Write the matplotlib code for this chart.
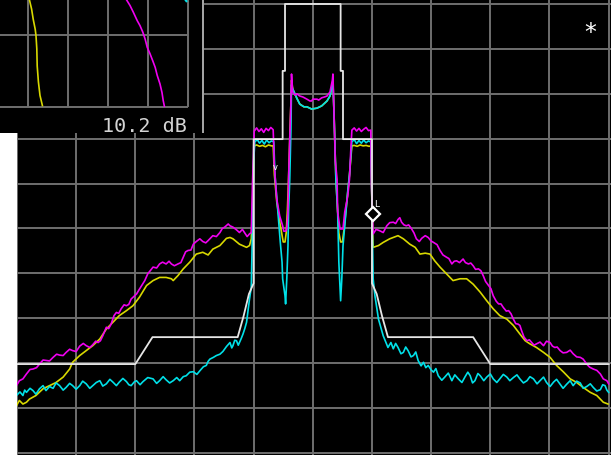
import numpy as np
import matplotlib
matplotlib.use('Agg')
import matplotlib.pyplot as plt
from matplotlib.patches import Rectangle

# frequency offset in divisions from centre, level in dB (ref 0 dB, 10 dB/div)
mask_x = [-5.0, -3.0, -2.71, -1.27, -1.17, -1.08, -1.0, -1.0, -0.51, -0.51, -0.47, -0.47,
          0.47, 0.47, 0.51, 0.51, 1.0, 1.0, 1.08, 1.17, 1.27, 2.71, 3.0, 5.0]
mask_db = [-80.2, -80.2, -74.2, -74.2, -69.5, -64.6, -62.2, -30.1, -30.1, -14.9, -14.9, 0.0,
           0.0, -14.9, -14.9, -30.1, -30.1, -62.2, -64.6, -69.5, -74.2, -74.2, -80.2, -80.2]

mag_x = [-5.01, -4.96, -4.84, -4.73, -4.62, -4.51, -4.39, -4.28, -4.17, -4.06, -3.94, -3.83,
         -3.72, -3.63, -3.55, -3.49, -3.41, -3.32, -3.24, -3.15, -3.07, -2.98, -2.93, -2.84,
         -2.79, -2.70, -2.59, -2.54, -2.48, -2.39, -2.34, -2.28, -2.19, -2.11, -2.02, -1.97,
         -1.86, -1.77, -1.69, -1.57, -1.49, -1.43, -1.40, -1.35, -1.29, -1.24, -1.15, -1.07, -1.04,
         -1.02, -0.99, -0.95, -0.91, -0.87, -0.83, -0.79, -0.75, -0.71, -0.67,
         -0.65, -0.61, -0.56, -0.51, -0.49, -0.46, -0.44, -0.42, -0.41, -0.39,
         -0.37, -0.36, -0.34, -0.30, -0.27, -0.22, -0.17, -0.10, -0.05, -0.02,
         0.0, 0.03, 0.07, 0.10, 0.15, 0.20, 0.24, 0.29, 0.33, 0.34,
         0.36, 0.38, 0.41, 0.42, 0.46, 0.51, 0.54, 0.59, 0.62, 0.64,
         0.66, 0.70, 0.74, 0.78, 0.82, 0.86, 0.90, 0.94, 0.98, 0.99,
         1.02, 1.13, 1.25, 1.36, 1.44, 1.50, 1.58, 1.67, 1.75, 1.84, 1.95, 2.04, 2.15, 2.26,
         2.35, 2.43, 2.54, 2.63, 2.71, 2.80, 2.88, 2.97, 3.05, 3.14, 3.22, 3.31, 3.39, 3.47,
         3.53, 3.62, 3.70, 3.78, 3.90, 4.01, 4.09, 4.18, 4.29, 4.40, 4.52, 4.63, 4.74, 4.86,
         4.97, 5.0]
mag_db = [-85.0, -83.9, -82.4, -81.3, -80.2, -79.4, -78.7, -78.2, -77.6, -77.2, -76.2, -76.1,
          -75.9, -75.4, -73.9, -72.0, -71.3, -68.7, -67.9, -67.2, -65.7, -64.6, -63.5, -61.6,
          -60.1, -58.6, -57.9, -57.5, -57.9, -57.9, -58.3, -57.9, -56.4, -54.9, -53.5, -52.9,
          -52.9, -52.7, -51.6, -50.9, -49.7, -49.0, -49.4, -49.7, -50.3, -50.9, -51.0, -51.2, -50.9,
          -40.0, -28.3, -27.6, -28.4, -27.8, -28.6, -27.7, -28.2, -27.5, -28.0,
          -36.0, -43.4, -47.2, -49.4, -50.6, -50.6, -50.1, -46.3, -39.0, -30.0,
          -22.0, -15.6, -19.6, -20.3, -20.0, -20.5, -20.7, -21.2, -21.6, -21.6,
          -21.2, -21.2, -21.2, -21.4, -20.9, -20.7, -20.5, -19.6, -17.0, -15.6,
          -25.0, -35.0, -39.0, -46.3, -50.1, -50.1, -46.3, -42.8, -39.0, -33.0,
          -28.1, -27.6, -28.3, -27.7, -28.4, -27.9, -27.5, -28.2, -28.1, -40.0,
          -51.2, -50.5, -49.4, -48.6, -48.0, -48.6, -49.4, -50.1, -52.3, -52.2, -52.0, -53.1,
          -54.9, -56.4, -57.9, -57.2, -56.8, -57.9, -58.3, -59.0, -60.5, -62.7, -65.0, -66.8,
          -67.6, -68.3, -70.2, -71.3, -72.8, -75.0, -75.4, -75.7, -76.1, -75.4, -76.5, -77.2,
          -77.6, -77.9, -78.7, -80.2, -81.3, -82.4, -83.9, -84.6]

# extra in-between readings of the magenta skirts (trace ripple)
mag_ripple_x = [-4.90, -4.78, -4.67, -4.56, -4.45, -4.33, -4.22, -4.11, -4.00, -3.88, -3.77,
                -3.67, -3.59, -3.45, -3.36, -3.28, -3.19, -3.11, -2.64, -2.43, -2.23, -2.15,
                -2.06, -1.91, -1.81, -1.63, -1.53, -1.19, -1.11,
                1.07, 1.19, 1.30, 1.40, 1.47, 1.54, 1.62, 1.71, 1.80, 1.90, 2.00, 2.10, 2.20,
                2.30, 2.39, 2.48, 2.58, 2.67, 2.75, 2.84, 2.92, 3.01, 3.10, 3.18, 3.27, 3.35,
                3.43, 3.50, 3.57, 3.66, 3.74, 3.84, 3.95, 4.05, 4.13, 4.23, 4.35, 4.46, 4.57,
                4.68, 4.80, 4.91]
mag_ripple_db = [-83.5, -81.4, -81.0, -79.3, -79.5, -78.0, -78.3, -76.9, -77.4, -75.6, -76.5,
                 -75.1, -75.0, -72.3, -69.4, -68.9, -67.0, -66.9, -58.8, -57.3, -57.6, -55.2,
                 -54.8, -52.3, -53.2, -51.8, -50.0, -50.2, -51.8,
                 -50.2, -50.9, -48.7, -48.9, -47.6, -49.2, -49.2, -51.0, -52.9, -51.6, -52.8,
                 -53.6, -55.9, -56.7, -57.3, -57.6, -57.6, -57.7, -59.1, -59.4, -61.8, -63.4,
                 -66.2, -66.8, -68.4, -69.0, -71.2, -71.6, -74.2, -74.8, -76.0, -75.3, -75.1,
                 -76.2, -76.4, -77.7, -77.1, -78.6, -79.1, -80.9, -81.6, -83.5]

yel_x = [-5.01, -4.96, -4.90, -4.84, -4.79, -4.68, -4.56, -4.45, -4.34, -4.22, -4.11, -4.06,
         -3.94, -3.83, -3.72, -3.60, -3.49, -3.38, -3.27, -3.15, -3.04, -2.93, -2.81, -2.70,
         -2.59, -2.48, -2.39, -2.36, -2.28, -2.19, -2.08, -1.97, -1.86, -1.77, -1.69, -1.57,
         -1.46, -1.40, -1.35, -1.24, -1.12, -1.07, -1.04,
         -1.02, -0.99, -0.95, -0.90, -0.85, -0.80, -0.75, -0.70, -0.67, -0.65,
         -0.61, -0.56, -0.52, -0.50, -0.47, -0.45, -0.43, -0.41, -0.39, -0.37,
         -0.36, -0.34, -0.27, -0.22, -0.15, -0.10, -0.02, 0.07, 0.15, 0.24,
         0.29, 0.33, 0.34, 0.36, 0.39, 0.42, 0.44, 0.47, 0.50, 0.53,
         0.56, 0.59, 0.62, 0.66, 0.70, 0.75, 0.80, 0.85, 0.90, 0.95, 0.98, 1.00,
         1.02, 1.11, 1.19, 1.30, 1.44, 1.53, 1.64, 1.73, 1.81, 1.90, 1.98, 2.06, 2.15,
         2.26, 2.37, 2.49, 2.60, 2.71, 2.83, 2.94, 3.05, 3.16, 3.28, 3.39, 3.50, 3.59,
         3.67, 3.78, 3.90, 4.01, 4.12, 4.24, 4.35, 4.46, 4.57, 4.69, 4.80, 4.91, 4.99]
yel_db = [-89.5, -88.3, -89.1, -88.7, -88.0, -87.2, -85.7, -85.0, -84.3, -83.1, -81.3, -79.8,
          -78.3, -77.2, -76.1, -74.6, -72.4, -70.9, -69.4, -68.3, -67.2, -65.3, -62.7, -61.6,
          -60.9, -60.9, -61.2, -61.6, -60.5, -59.0, -57.5, -55.7, -55.3, -55.9, -54.6, -53.8,
          -52.2, -52.0, -52.3, -53.5, -54.2, -53.8, -52.3,
          -45.0, -31.6, -31.4, -31.7, -31.5, -31.8, -31.4, -31.6, -31.6, -38.0,
          -44.0, -48.5, -51.5, -53.0, -53.0, -51.0, -46.0, -39.0, -30.0, -22.0,
          -17.0, -18.9, -21.0, -22.3, -22.9, -22.9, -23.4, -23.2, -22.7, -21.6,
          -20.5, -18.0, -17.0, -25.0, -39.0, -46.3, -51.0, -53.0, -53.0, -50.0,
          -46.0, -42.0, -38.0, -31.6, -31.5, -31.7, -31.4, -31.6, -31.5, -31.7, -31.6, -45.0,
          -54.2, -53.8, -53.1, -52.3, -51.6, -52.3, -53.5, -54.2, -55.7, -55.5, -55.7, -57.2, -58.6,
          -60.1, -61.6, -61.2, -61.2, -62.4, -64.2, -66.1, -67.9, -69.4, -70.2, -71.6, -73.5, -75.0,
          -75.7, -76.5, -77.6, -78.7, -80.5, -82.0, -83.5, -84.3, -85.4, -86.5, -87.2, -88.7, -89.1]

cyan_x = [-5.01, -4.95, -4.90, -4.87, -4.84, -4.78, -4.73, -4.68, -4.62, -4.56, -4.51, -4.45,
          -4.39, -4.34, -4.28, -4.22, -4.17, -4.11, -4.06, -4.00, -3.94, -3.89, -3.83, -3.77,
          -3.72, -3.66, -3.60, -3.55, -3.49, -3.43, -3.38, -3.32, -3.27, -3.21, -3.15, -3.11,
          -3.07, -3.02, -2.98, -2.92, -2.87, -2.79, -2.70, -2.64, -2.59, -2.53, -2.48, -2.42,
          -2.36, -2.30, -2.25, -2.19, -2.14, -2.08, -2.02, -1.96, -1.91, -1.85, -1.80, -1.77,
          -1.74, -1.68, -1.63, -1.57, -1.52, -1.46, -1.40, -1.37, -1.35, -1.32, -1.29, -1.26,
          -1.24, -1.21, -1.18, -1.15, -1.12, -1.07, -1.04,
          -1.02, -1.00, -0.98, -0.94, -0.90, -0.86, -0.82, -0.78, -0.74, -0.70,
          -0.66, -0.64, -0.59, -0.55, -0.52, -0.51, -0.47, -0.46, -0.44, -0.42,
          -0.41, -0.39, -0.37, -0.36, -0.34, -0.27, -0.22, -0.15, -0.10, -0.02,
          0.07, 0.15, 0.24, 0.29, 0.34, 0.36, 0.39, 0.42, 0.44, 0.47,
          0.49, 0.51, 0.56, 0.59, 0.62, 0.66, 0.70, 0.74, 0.78, 0.82,
          0.86, 0.90, 0.94, 0.98, 1.00,
          1.02, 1.05, 1.11, 1.19, 1.27, 1.32, 1.36, 1.40, 1.44, 1.49,
          1.53, 1.57, 1.61, 1.66, 1.70, 1.74, 1.78, 1.83, 1.87, 1.91,
          1.95, 2.00, 2.04, 2.08, 2.12, 2.18, 2.23, 2.29, 2.35, 2.40,
          2.46, 2.52, 2.57, 2.62, 2.66, 2.70, 2.74, 2.79, 2.83, 2.89,
          2.94, 3.00, 3.05, 3.11, 3.16, 3.22, 3.28, 3.33, 3.39, 3.45,
          3.50, 3.56, 3.62, 3.67, 3.73, 3.79, 3.84, 3.90, 3.95, 4.01,
          4.07, 4.12, 4.18, 4.23, 4.29, 4.35, 4.40, 4.46, 4.52, 4.57,
          4.63, 4.69, 4.74, 4.80, 4.86, 4.90, 4.94, 4.97, 5.00]
cyan_db = [-87.2, -86.4, -87.2, -86.0, -86.5, -85.6, -86.1, -86.9, -85.7, -85.0, -86.1, -85.2,
           -85.6, -84.4, -85.0, -86.0, -85.4, -84.5, -85.0, -85.8, -85.0, -84.0, -84.6, -85.6,
           -85.0, -84.3, -83.9, -85.1, -84.6, -83.6, -84.2, -85.0, -84.2, -83.4, -84.1, -84.8,
           -85.0, -84.2, -83.9, -84.8, -84.1, -83.2, -83.5, -84.5, -83.9, -83.0, -83.7, -84.4,
           -83.9, -83.2, -83.9, -83.0, -82.8, -82.0, -81.9, -82.5, -81.7, -80.8, -80.5, -79.6,
           -79.1, -78.7, -78.3, -78.0, -77.4, -76.3, -75.4, -76.6, -76.1, -74.9, -75.0, -76.0,
           -75.4, -74.5, -73.5, -72.3, -70.9, -65.7, -63.1,
           -50.0, -35.0, -30.7, -30.2, -31.0, -30.4, -31.2, -30.3, -30.9, -30.5,
           -30.7, -38.0, -46.3, -53.0, -57.5, -61.2, -65.0, -66.8, -61.2, -53.9,
           -46.3, -39.0, -28.0, -18.0, -18.9, -21.0, -22.3, -22.9, -22.9, -23.4,
           -23.2, -22.7, -21.6, -20.5, -17.4, -25.0, -39.0, -46.3, -57.5, -66.1,
           -61.2, -53.9, -46.3, -41.7, -38.0, -30.7, -30.2, -31.1, -30.4, -31.0,
           -30.3, -30.9, -30.5, -30.7, -45.0,
           -61.2, -65.0, -70.2, -73.9, -76.5, -75.4, -76.8, -75.6, -76.5, -77.9,
           -77.6, -76.4, -77.2, -78.6, -78.3, -77.5, -79.4, -80.6, -79.8, -81.0,
           -80.5, -81.5, -82.0, -81.2, -82.8, -83.8, -83.1, -82.2, -83.9, -82.6,
           -83.5, -84.3, -83.1, -82.0, -82.8, -84.4, -83.9, -82.3, -82.8, -83.9,
           -83.1, -82.4, -83.5, -84.3, -83.5, -82.5, -83.1, -83.9, -83.2, -82.6,
           -83.5, -84.4, -83.9, -83.0, -83.5, -84.6, -83.9, -83.1, -84.3, -85.2,
           -84.2, -83.6, -84.7, -85.6, -84.7, -83.9, -85.0, -84.0, -84.4, -85.6,
           -85.2, -84.6, -85.4, -86.2, -85.9, -84.8, -85.0, -86.0, -86.5]

# marker (delta marker diamond)
marker_x = 1.02
marker_db = -46.8

# zoomed inset window, its own grid units
inset_yel_x = [0.03, 0.09, 0.13, 0.18, 0.20, 0.22, 0.23, 0.26, 0.30, 0.36]
inset_yel_y = [1.5, 1.36, 1.22, 1.08, 0.99, 0.81, 0.57, 0.35, 0.16, 0.02]
inset_mag_x = [2.45, 2.55, 2.63, 2.73, 2.80, 2.87, 2.93, 2.98, 3.05, 3.12, 3.18, 3.23,
               3.30, 3.35, 3.38, 3.41]
inset_mag_y = [1.5, 1.41, 1.32, 1.20, 1.13, 1.04, 0.94, 0.83, 0.74, 0.64, 0.55, 0.44,
               0.32, 0.20, 0.09, 0.01]
inset_cyan_x = [3.92, 3.96]
inset_cyan_y = [1.5, 1.47]
inset_label = '10.2 dB'

GRID = '#6e6e6e'
MAG = '#f000f0'
YEL = '#d8d800'
CYAN = '#00e0e8'
WHITE = '#e6e6e6'


def merge_trace(xs, ys, extra_x, extra_y):
    x = np.concatenate([xs, extra_x])
    y = np.concatenate([ys, extra_y])
    order = np.argsort(x, kind='stable')
    return x[order], y[order]


def main():
    fig = plt.figure(figsize=(6.11, 4.56), dpi=100, facecolor='black')

    # white strip at the left edge of the screen grab
    fig.patches.append(Rectangle((0, 0), 16.5 / 611, 322 / 456, transform=fig.transFigure,
                                 facecolor='white', edgecolor='none'))

    ax = fig.add_axes([17 / 611, 0, 594 / 611, 1])
    ax.set_facecolor('black')
    ax.set_xlim(-5.0, 5.04)
    ax.set_ylim(-100.45, 1.11)
    ax.set_xticks(np.arange(-5, 6, 1))
    ax.set_yticks(np.arange(-100, 1, 10))
    ax.grid(True, color=GRID, lw=1.4)
    ax.set_axisbelow(True)
    ax.tick_params(length=0, labelbottom=False, labelleft=False)
    for s in ax.spines.values():
        s.set_visible(False)

    mx, my = merge_trace(mag_x, mag_db, mag_ripple_x, mag_ripple_db)

    ax.plot(yel_x, yel_db, color=YEL, lw=1.2)
    ax.plot(cyan_x, cyan_db, color=CYAN, lw=1.2)
    ax.plot(mx, my, color=MAG, lw=1.2)
    ax.plot(mask_x, mask_db, color=WHITE, lw=1.3, clip_on=False)

    ax.plot([marker_x], [marker_db], marker='D', ms=7, mfc='black', mec='white', mew=1.6,
            zorder=5)
    ax.text(marker_x + 0.01, marker_db + 1.4, 'L', color='white', fontsize=6.5,
            ha='left', va='bottom', zorder=5)
    ax.text(-0.64, -36.3, 'v', color='white', fontsize=6, ha='center', va='center', zorder=5)
    ax.text(4.69, -6.2, '*', color='white', fontsize=17, ha='center', va='center')

    # inset
    ins = fig.add_axes([0, 322 / 456, 204 / 611, 134 / 456])
    ins.set_facecolor('black')
    ins.set_xlim(-0.7, 4.4)
    ins.set_ylim(-0.361, 1.5)
    ins.set_xticks([])
    ins.set_yticks([])
    for s in ins.spines.values():
        s.set_visible(False)
    ins.vlines([0, 1, 2, 3, 4], 0, 1.5, color=GRID, lw=1.4)
    ins.hlines([0, 1], -0.7, 4, color=GRID, lw=1.4)
    ins.axvline(4.375, color='#a8a8a8', lw=1.4)
    ins.plot(inset_yel_x, inset_yel_y, color=YEL, lw=1.2)
    ins.plot(inset_mag_x, inset_mag_y, color=MAG, lw=1.2)
    ins.plot(inset_cyan_x, inset_cyan_y, color=CYAN, lw=1.5)
    ins.text(3.97, -0.333, inset_label, color='#d4d4d4', fontsize=14.5,
             family='DejaVu Sans Mono', ha='right', va='baseline')

    fig.savefig('out.png', dpi=100, facecolor='black')


if __name__ == '__main__':
    main()
